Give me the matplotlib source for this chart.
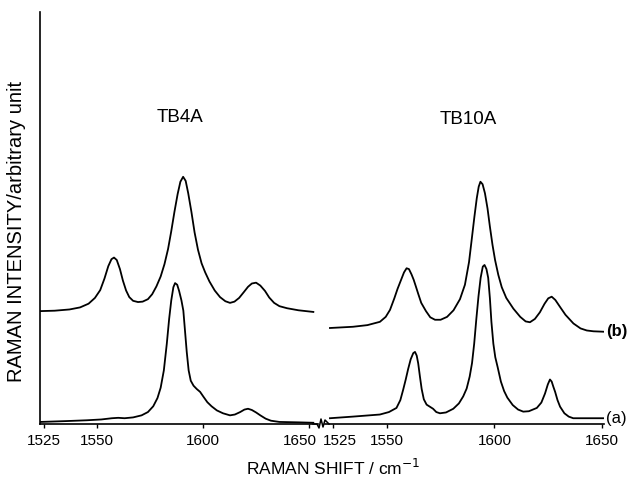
import matplotlib.pyplot as plt
from matplotlib.lines import Line2D
from matplotlib.transforms import ScaledTranslation

plt.rcParams['font.family'] = ['Liberation Sans', 'DejaVu Sans']

# TB4A, trace (b) - upper spectrum
tb4a_b_x = [1523.2, 1530, 1537, 1542, 1546, 1549, 1551.5, 1553.5, 1555.3, 1556.8,
            1558, 1559.3, 1560.8, 1562.2, 1563.7, 1565.2, 1567, 1569.3, 1571.5, 1574,
            1576, 1578, 1580, 1581.8, 1583.5, 1585, 1586.5, 1588, 1589.3, 1590.6,
            1591.8, 1593, 1594.5, 1596, 1597.6, 1599.3, 1601, 1603, 1605.5, 1608,
            1610.5, 1612.7, 1614.8, 1617, 1619.2, 1621.2, 1623, 1625, 1627, 1629.2,
            1631.2, 1633.5, 1636, 1639.6, 1645, 1652]
tb4a_b_y = [27.4, 27.5, 27.8, 28.3, 29.2, 30.6, 32.5, 35.3, 38.3, 40.0,
            40.4, 39.8, 37.6, 34.8, 32.4, 30.8, 29.9, 29.6, 29.7, 30.3,
            31.5, 33.4, 35.8, 38.8, 42.5, 46.8, 51.5, 55.8, 58.8, 60.0,
            59.0, 56.0, 51.5, 46.5, 42.3, 39.0, 36.8, 34.6, 32.4, 30.8,
            29.8, 29.4, 29.7, 30.6, 32.0, 33.3, 34.1, 34.3, 33.6, 32.3,
            30.7, 29.4, 28.6, 28.1, 27.6, 27.2]

# TB4A, trace (a) - lower spectrum
tb4a_a_x = [1523.2, 1535, 1545, 1552, 1557, 1560, 1563, 1567, 1571, 1574,
            1576.5, 1578.5, 1580, 1581.5, 1582.9, 1584, 1585, 1586, 1586.8, 1587.8,
            1588.7, 1589.8, 1590.7, 1591.5, 1592.3, 1593.2, 1594.2, 1595.5, 1597, 1598.6,
            1600.2, 1602, 1604, 1606.5, 1609.4, 1612.7, 1615, 1617.5, 1619.5, 1621.2,
            1623, 1625, 1627, 1629.5, 1632, 1636, 1645, 1652]
tb4a_a_y = [0.5, 0.7, 0.9, 1.1, 1.4, 1.5, 1.4, 1.6, 2.1, 2.9,
            4.3, 6.3, 8.8, 13.0, 19.5, 25.5, 30.0, 33.2, 34.2, 33.8,
            32.3, 30.0, 27.5, 22.5, 17.5, 13.0, 10.5, 9.3, 8.5, 7.8,
            6.6, 5.3, 4.3, 3.3, 2.6, 2.1, 2.3, 2.9, 3.5, 3.7,
            3.4, 2.8, 2.1, 1.3, 0.8, 0.5, 0.4, 0.3]

# TB10A, trace (b)
tb10a_b_x = [1523.6, 1534.3, 1541, 1546.8, 1549.5, 1551.5, 1553.5, 1555, 1556.5, 1558,
             1559.2, 1560.3, 1561.5, 1562.5, 1563.5, 1564.6, 1566, 1568.2, 1570.2, 1572.4,
             1575, 1578, 1581, 1584, 1586.3, 1588.2, 1589.5, 1590.7, 1591.8, 1592.7,
             1593.5, 1594.5, 1595.6, 1596.8, 1597.9, 1599.1, 1600.3, 1601.8, 1603.4, 1605.5,
             1608.8, 1612, 1614.5, 1616.5, 1618.8, 1621.1, 1623.3, 1625, 1626.6, 1628.3,
             1630.5, 1633, 1636.7, 1640, 1642.9, 1646, 1650.6]
tb10a_b_y = [23.3, 23.6, 24.0, 24.8, 26.0, 27.7, 30.5, 32.8, 34.8, 36.8,
             37.8, 37.6, 36.3, 35.0, 33.4, 31.6, 29.4, 27.4, 25.9, 25.3,
             25.3, 26.0, 27.6, 30.3, 33.8, 39.3, 45.0, 50.3, 54.8, 57.6,
             58.8, 58.2, 56.0, 52.3, 47.9, 43.5, 39.8, 36.2, 33.2, 30.6,
             28.0, 26.0, 24.9, 24.7, 25.5, 27.1, 29.2, 30.5, 30.9, 30.1,
             28.4, 26.5, 24.4, 23.2, 22.7, 22.5, 22.4]

# TB10A, trace (a)
tb10a_a_x = [1523.6, 1534.4, 1546.8, 1551, 1554.5, 1556.3, 1557.6, 1558.8, 1559.9, 1561.1,
             1562.3, 1563.1, 1563.9, 1564.6, 1565.4, 1566.2, 1567.2, 1568.5, 1570, 1571.5,
             1573, 1574.7, 1577.5, 1580.9, 1583.5, 1585.5, 1587.1, 1588.5, 1589.6, 1590.6,
             1591.6, 1592.6, 1593.6, 1594.6, 1595.4, 1596.3, 1597.1, 1597.9, 1598.6, 1599.5,
             1600.4, 1601.5, 1603, 1604.5, 1606, 1608.5, 1611, 1613.4, 1616, 1619.7,
             1621.8, 1623.5, 1624.8, 1625.8, 1626.6, 1627.4, 1628.2, 1629.3, 1630.5, 1632.5,
             1634.5, 1636.6, 1642, 1650.6]
tb10a_a_y = [1.4, 1.8, 2.3, 2.9, 3.9, 5.8, 8.3, 10.8, 13.3, 15.7,
             17.2, 17.5, 16.6, 14.7, 11.5, 8.5, 6.0, 4.7, 4.2, 3.7,
             2.9, 2.6, 2.8, 3.7, 5.0, 6.7, 8.6, 11.5, 14.8, 19.5,
             25.5, 31.0, 35.5, 38.2, 38.6, 37.6, 35.5, 30.5, 24.8, 19.5,
             16.2, 13.8, 10.3, 8.0, 6.4, 4.6, 3.5, 3.0, 3.1, 3.9,
             5.2, 7.4, 9.6, 10.8, 10.3, 9.0, 7.8, 5.8, 4.2, 2.6,
             1.8, 1.4, 1.4, 1.4]

ticks = [1525, 1550, 1600, 1650]

W, H = 630, 479
fig = plt.figure(figsize=(W / 100, H / 100), dpi=100)
ax1 = fig.add_axes([40 / W, 1 - 424 / H, 278 / W, 412 / H])
ax2 = fig.add_axes([325 / W, 1 - 424 / H, 279 / W, 412 / H])

lw = 1.3
ax1.plot(tb4a_b_x, tb4a_b_y, color='black', lw=lw)
ax1.plot(tb4a_a_x, tb4a_a_y, color='black', lw=lw)
ax2.plot(tb10a_b_x, tb10a_b_y, color='black', lw=lw)
ax2.plot(tb10a_a_x, tb10a_a_y, color='black', lw=lw)

ax1.set_xlim(1523.1, 1654.2)
ax2.set_xlim(1521.3, 1650.9)
for ax in (ax1, ax2):
    ax.set_ylim(0, 100)
    ax.set_xticks(ticks)
    ax.set_yticks([])
    ax.tick_params(axis='x', direction='out', length=3, width=1, pad=4, labelsize=11)
    ax.spines['top'].set_visible(False)
    ax.spines['right'].set_visible(False)
    ax.spines['bottom'].set_linewidth(1.2)
    ax.spines['left'].set_linewidth(1.2)
    ax.patch.set_visible(False)
ax2.spines['left'].set_visible(False)

# nudge the crowded labels either side of the break
lab = ax1.get_xticklabels()[-1]
lab.set_transform(lab.get_transform() + ScaledTranslation(-9 / 100, 0, fig.dpi_scale_trans))
lab = ax2.get_xticklabels()[0]
lab.set_transform(lab.get_transform() + ScaledTranslation(7 / 100, 0, fig.dpi_scale_trans))

ax1.text(1589.2, 74.3, 'TB4A', ha='center', va='center', fontsize=13.5)
ax2.text(1587.7, 73.8, 'TB10A', ha='center', va='center', fontsize=13.5)

ax2.text(1651.8, 22.4, '(b)', ha='left', va='center', fontsize=12, fontweight='bold')
ax2.text(1651.8, 1.4, '(a)', ha='left', va='center', fontsize=12)

# axis break between the two panels
zx = [313, 317, 319, 321, 323, 325, 329]
zy = [424, 424, 428, 419, 427, 420, 424]
fig.add_artist(Line2D([x / W for x in zx], [1 - y / H for y in zy],
                      transform=fig.transFigure, color='black', lw=1.1))

fig.text(333 / W, 1 - 468 / H, 'RAMAN SHIFT / cm$^{-1}$', ha='center', va='center', fontsize=12.5)
fig.text(17 / W, 1 - 231 / H, 'RAMAN INTENSITY/arbitrary unit', ha='center', va='center',
         rotation=90, fontsize=14.5)

fig.savefig('out.png', dpi=100)
